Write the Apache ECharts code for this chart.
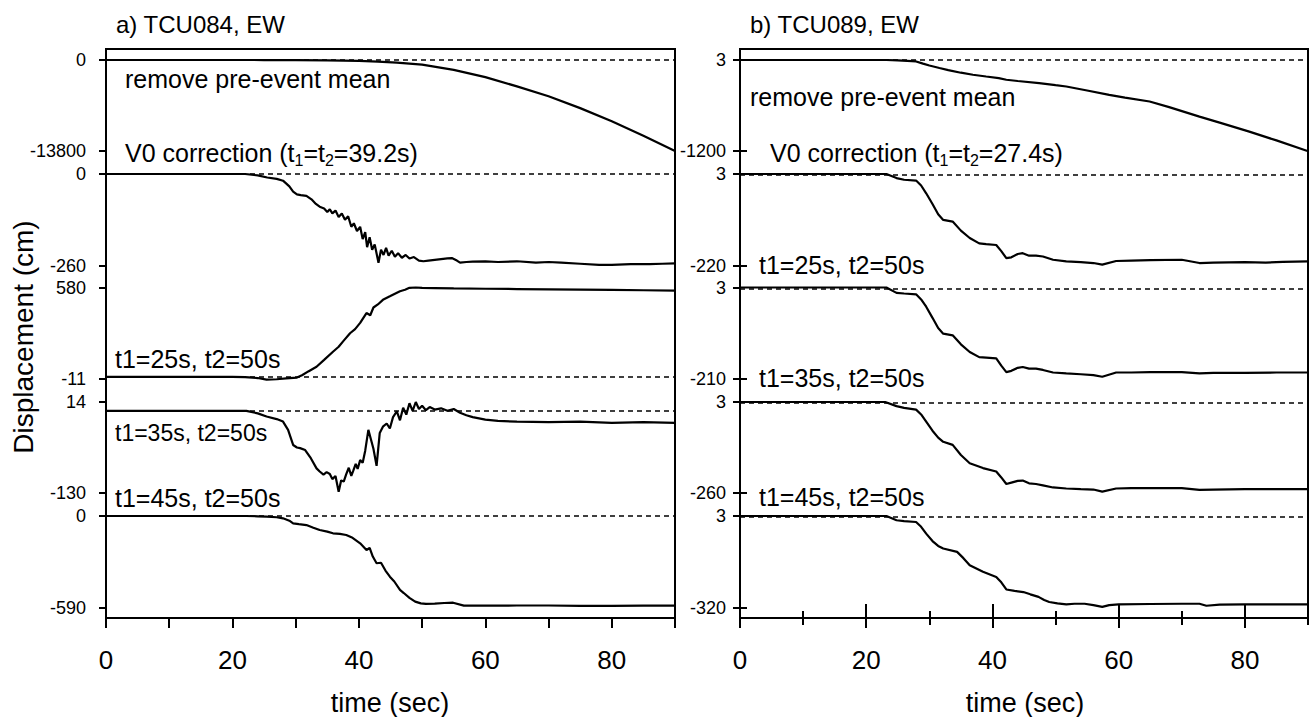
<!DOCTYPE html>
<html>
<head>
<meta charset="utf-8">
<script src="https://cdn.jsdelivr.net/npm/echarts@6/dist/echarts.min.js"></script>
<style>html,body{margin:0;padding:0;background:#fff;}#main{width:1309px;height:717px;}</style>
</head>
<body>
<div id="main"></div>
<script>
// ---------- DATA ----------
// Panel a) TCU084, EW
const timeA1 = [0, 20, 25, 30, 35, 40, 43, 46, 50, 55, 60, 65, 70, 75, 80, 85, 90];
const dispA1 = [0, 0, -5, -20, -60, -140, -240, -400, -700, -1500, -2600, -4000, -5500, -7300, -9300, -11500, -13800];

const timeA2 = [0,10,20,22,24,25.5,27,28,29,29.6,30.2,30.8,31.7,32.5,33.2,33.8,34.5,35.0,35.4,35.8,36.3,36.8,37.3,37.8,38.3,38.8,39.2,39.7,40.2,40.6,41.0,41.3,41.7,42.1,42.5,43.1,43.5,43.9,44.3,44.7,45.2,45.7,46.2,46.8,47.4,48.0,48.7,49.5,50.2,51,52,53,54,54.7,55.5,56,57,58,60,62,65,68,70,72,75,78,80,83,86,88,90];
const dispA2 = [0,0,0,0,-4,-10,-14,-19,-35,-50,-58,-60,-62,-72,-85,-93,-98,-108,-100,-112,-104,-122,-112,-130,-120,-150,-140,-162,-150,-185,-165,-208,-180,-215,-200,-252,-215,-230,-210,-232,-218,-235,-225,-238,-230,-240,-236,-246,-248,-246,-244,-242,-240,-239,-246,-252,-250,-249,-248,-250,-248,-252,-250,-252,-255,-258,-258,-256,-256,-255,-254];

const timeA3 = [0,10,20,22,24,25.4,27,28.5,30.2,31,32,33.3,34.5,35.9,36.8,37.5,38.6,39.4,40.2,41.2,41.8,42.3,43,43.8,44.9,45.7,46.5,47.3,48,49,50,52,55,60,65,70,75,80,85,90];
const dispA3 = [0,0,0,-2,-8,-18,-16,-10,-5,10,35,65,110,163,195,230,283,310,350,414,400,450,470,500,523,540,556,565,578,580,577,576,574,572,570,568,566,564,562,560];

const timeA4 = [0,10,20,22.2,24,25.4,27,28,28.8,29.6,30.2,30.7,31.5,32.4,33.3,33.8,34.4,34.9,35.4,35.8,36.3,36.8,37.2,37.6,38.0,38.4,38.8,39.1,39.5,39.8,40.2,40.6,41.0,41.5,41.9,42.3,42.8,43.3,43.8,44.4,44.9,45.4,46.0,46.5,47.0,47.5,48.0,48.5,49.0,49.5,50.0,50.6,51.2,52,53,54,55,56,57,58,60,62,65,70,75,80,85,90];
const dispA4 = [0,0,0,0,-4,-9,-13,-17,-30,-54,-58,-59,-62,-75,-91,-96,-101,-97,-100,-108,-103,-128,-110,-112,-100,-90,-103,-95,-84,-92,-78,-82,-63,-30,-45,-60,-87,-35,-25,-20,-28,-10,-1,-15,5,-6,12,0,14,3,8,1,6,2,4,0,3,-3,-7,-10,-14,-16,-17,-18,-17,-19,-18,-19];

const timeA5 = [0,10,20,22.2,24,25.4,27,28,29,29.6,30.5,31.7,32.8,33.8,35,35.9,37,38,39,40.2,41.2,41.7,42.2,42.8,43.5,44.2,44.9,45.6,46.5,47.1,48,48.9,49.8,50.6,52,53.5,54.9,56.6,58,60,65,70,75,80,85,90];
const dispA5 = [0,0,0,0,-2,-4,-8,-15,-30,-47,-52,-58,-75,-90,-100,-111,-115,-122,-140,-175,-218,-205,-260,-303,-300,-350,-389,-420,-474,-494,-525,-549,-560,-564,-562,-558,-556,-575,-574,-575,-574,-574,-576,-576,-575,-575];

// Panel b) TCU089, EW
const timeB1 = [0,10,20,23.2,25,26.5,27.9,29,30,31.6,33,35,36.9,39,41,42.2,44,47.4,50,51.7,55,58.5,61,64.9,68,72.8,76,80.7,85,89.8,90];
const dispB1 = [3,3,3,3,-2,-8,-16,-45,-70,-103,-130,-165,-192,-215,-236,-258,-275,-302,-330,-347,-400,-457,-495,-546,-620,-745,-825,-944,-1060,-1196,-1200];

const timeB2 = [0,10,20,23.2,24.8,26,27.9,28.7,29.5,30.5,31.4,32.2,33.7,35,36.4,37.9,39,40.6,41.4,42.2,43,44,44.8,45.8,46.9,48,49.6,51.7,54,56,57.4,59.6,62,65,70,72.8,75,80,83.3,86,90];
const dispB2 = [3,3,3,3,-7,-11,-13,-25,-44,-70,-95,-109,-113,-135,-153,-166,-168,-170,-185,-202,-200,-192,-190,-196,-196,-198,-206,-210,-212,-214,-218,-209,-208,-207,-206,-214,-213,-212,-213,-211,-210];

const timeB3 = [0,10,20,23.2,24.8,26,27.9,28.7,29.5,30.5,31.4,32.2,33.7,35,36.4,37.9,39,40.6,41.4,42.2,43,44,44.8,45.8,46.9,48,49.6,51.7,54,56,57.4,59.6,62,65,70,72.8,75,80,85,90];
const dispB3 = [3,3,3,3,-9.6,-11,-13,-25,-42,-68,-92,-105,-109,-130,-148,-160,-161,-163,-180,-195,-192,-185,-183,-187,-187,-190,-196,-198,-200,-202,-206,-196,-196,-195,-195,-198,-197,-197,-196,-196];

const timeB4 = [0,10,20,23,24.8,26,27.9,28.7,29.5,30.5,31.4,32.2,33.7,35,36.4,38.5,40.6,41.4,42.2,43,44,44.8,45.8,46.9,48,49.6,51.7,54,56,57.4,59.6,62,65,70,72.8,75,80,85,90];
const dispB4 = [3,3,3,3,-9,-14,-19,-33,-54,-80,-100,-112,-121,-150,-174,-188,-198,-215,-234,-230,-225,-224,-232,-234,-238,-244,-247,-249,-250,-256,-247,-246,-246,-246,-251,-250,-249,-249,-249];

const timeB5 = [0,10,20,23.2,24.8,26,27.9,28.7,29.5,30.5,31.4,32.2,34.4,35.4,36.4,38.5,40.6,41.4,42.2,43.5,44.9,46,47.3,48.2,49,50.3,51.7,53,54.6,56,57.4,58.5,60,65,70,72.8,73.9,76,80,85,90];
const dispB5 = [3,3,3,3,-12,-15,-18,-35,-59,-85,-102,-111,-123,-145,-170,-193,-211,-230,-255,-260,-264,-272,-281,-292,-299,-304,-307,-305,-305,-310,-316,-310,-307,-306,-305,-305,-312,-308,-307,-307,-307];

// Band axis labels: [top value, bottom value]
const bandLabelsA = [[0, -13800], [0, -260], [580, -11], [14, -130], [0, -590]];
const bandLabelsB = [[3, -1200], [3, -220], [3, -210], [3, -260], [3, -320]];

const xTickValues = [0, 10, 20, 30, 40, 50, 60, 70, 80, 90];
const xLabelValues = [0, 20, 40, 60, 80];
const xMinorValues = [10, 30, 50, 70, 90];

const panelTitles = ['a) TCU084, EW', 'b) TCU089, EW'];
const xAxisTitle = 'time (sec)';
const yAxisTitle = 'Displacement (cm)';

// ---------- LAYOUT / BUILD ----------
const FONT = '"Liberation Sans", Arial, Helvetica, sans-serif';
const panelLeft = [106, 740];
const panelWidth = [569, 568];
const frameTop = 49, frameHeight = 569;
const bandTop = [60, 174, 287.5, 402, 516];
const bandHeight = [91, 91.5, 91, 91, 92];

const traces = [
  [[timeA1, dispA1], [timeA2, dispA2], [timeA3, dispA3], [timeA4, dispA4], [timeA5, dispA5]],
  [[timeB1, dispB1], [timeB2, dispB2], [timeB3, dispB3], [timeB4, dispB4], [timeB5, dispB5]]
];
const bandLabels = [bandLabelsA, bandLabelsB];

const grids = [], xAxes = [], yAxes = [], series = [];

function tickStyle(len, inside) {
  return {show: true, inside: inside, length: len, lineStyle: {color: '#000', width: 2}};
}

for (let p = 0; p < 2; p++) {
  const gi = grids.length;
  grids.push({left: panelLeft[p], top: frameTop, width: panelWidth[p], height: frameHeight,
    show: true, borderColor: '#000', borderWidth: 2, backgroundColor: 'transparent'});
  const labelStyle = {customValues: xLabelValues, margin: 29, fontSize: 26, color: '#000', fontFamily: FONT};
  if (p === 0) {
    xAxes.push({gridIndex: gi, type: 'value', min: 0, max: 90, position: 'bottom',
      axisLine: {show: true, lineStyle: {color: '#000', width: 2}},
      axisTick: Object.assign(tickStyle(10, false), {customValues: xTickValues}),
      axisLabel: labelStyle, splitLine: {show: false}});
  } else {
    xAxes.push({gridIndex: gi, type: 'value', min: 0, max: 90, position: 'bottom',
      axisLine: {show: true, lineStyle: {color: '#000', width: 2}},
      axisTick: Object.assign(tickStyle(10, false), {customValues: xLabelValues}),
      axisLabel: labelStyle, splitLine: {show: false}});
    xAxes.push({gridIndex: gi, type: 'value', min: 0, max: 90, position: 'bottom',
      axisLine: {show: false}, axisLabel: {show: false}, splitLine: {show: false},
      axisTick: Object.assign(tickStyle(14, true), {customValues: xLabelValues})});
    xAxes.push({gridIndex: gi, type: 'value', min: 0, max: 90, position: 'bottom',
      axisLine: {show: false}, axisLabel: {show: false}, splitLine: {show: false},
      axisTick: Object.assign(tickStyle(7, false), {customValues: xMinorValues})});
    xAxes.push({gridIndex: gi, type: 'value', min: 0, max: 90, position: 'bottom',
      axisLine: {show: false}, axisLabel: {show: false}, splitLine: {show: false},
      axisTick: Object.assign(tickStyle(7, true), {customValues: xMinorValues})});
  }
  yAxes.push({gridIndex: gi, type: 'value', min: 0, max: 1, show: false});

  for (let b = 0; b < 5; b++) {
    const g = grids.length;
    grids.push({left: panelLeft[p], top: bandTop[b], width: panelWidth[p], height: bandHeight[b]});
    const xi = xAxes.length;
    xAxes.push({gridIndex: g, type: 'value', min: 0, max: 90, show: false});
    const [topV, botV] = bandLabels[p][b];
    const yi = yAxes.length;
    yAxes.push({gridIndex: g, type: 'value', min: botV, max: topV, position: 'left',
      axisLine: {show: false}, splitLine: {show: false},
      axisTick: Object.assign(tickStyle(7, false), {customValues: [botV, topV]}),
      axisLabel: {customValues: [botV, topV], formatter: v => String(v),
        margin: p === 0 ? 20 : 14, fontSize: 18, color: '#000', fontFamily: FONT}});
    if (p === 1) {
      yAxes.push({gridIndex: g, type: 'value', min: botV, max: topV, position: 'left',
        axisLine: {show: false}, splitLine: {show: false}, axisLabel: {show: false},
        axisTick: Object.assign(tickStyle(7, true), {customValues: [botV]})});
    }
    const [tArr, vArr] = traces[p][b];
    series.push({
      type: 'line', xAxisIndex: xi, yAxisIndex: yi,
      data: tArr.map((t, i) => [t, vArr[i]]),
      showSymbol: false, symbol: 'none', clip: false, z: 3,
      lineStyle: {color: '#000', width: 2.2},
      markLine: {silent: true, symbol: ['none', 'none'], label: {show: false},
        lineStyle: {type: [5, 4], color: '#000', width: 1.5}, data: [{yAxis: 0}]}
    });
  }
}

function txt(x, y, text, size, align) {
  return {type: 'text', x: x, y: y, z: 10,
    style: {text: text, fontSize: size, fontFamily: FONT, fill: '#000', verticalAlign: 'middle', align: align || 'left'}};
}
function v0Text(x, y, val) {
  return {type: 'text', x: x, y: y, z: 10,
    style: {
      text: '{m|V0 correction (t}{s|1}{m|=t}{s|2}{m|=' + val + 's)}',
      verticalAlign: 'middle', align: 'left', fill: '#000', fontFamily: FONT,
      rich: {
        m: {fontSize: 25, fontFamily: FONT, fill: '#000', lineHeight: 30},
        s: {fontSize: 16, fontFamily: FONT, fill: '#000', lineHeight: 16, verticalAlign: 'bottom'}
      }
    }};
}

const graphics = [
  txt(116, 24, panelTitles[0], 24),
  txt(750, 24, panelTitles[1], 24),
  txt(125, 79, 'remove pre-event mean', 25),
  v0Text(125, 153, '39.2'),
  txt(115, 359, 't1=25s, t2=50s', 25),
  txt(115, 433, 't1=35s, t2=50s', 23),
  txt(115, 498, 't1=45s, t2=50s', 25),
  txt(750, 97, 'remove pre-event mean', 25),
  v0Text(770, 153, '27.4'),
  txt(759, 265, 't1=25s, t2=50s', 25),
  txt(759, 378, 't1=35s, t2=50s', 25),
  txt(759, 497, 't1=45s, t2=50s', 25),
  txt(390, 703, xAxisTitle, 27, 'center'),
  txt(1025, 703, xAxisTitle, 27, 'center'),
  {type: 'text', x: 23, y: 337, rotation: Math.PI / 2, z: 10,
    style: {text: yAxisTitle, fontSize: 28, fontFamily: FONT, fill: '#000', align: 'center', verticalAlign: 'middle'}}
];

const chart = echarts.init(document.getElementById('main'), null, {renderer: 'svg'});
chart.setOption({
  animation: false,
  backgroundColor: '#fff',
  grid: grids,
  xAxis: xAxes,
  yAxis: yAxes,
  series: series,
  graphic: graphics
});
</script>
</body>
</html>
